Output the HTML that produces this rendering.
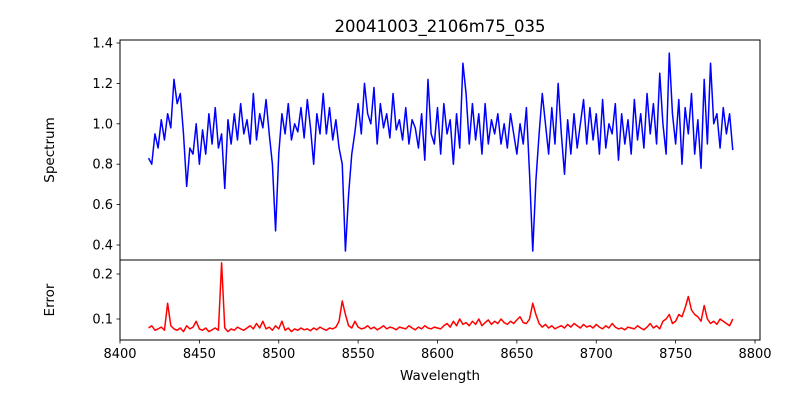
<!DOCTYPE html>
<html><head><meta charset="utf-8"><style>
html,body{margin:0;padding:0;background:#fff}
svg{display:block;font-family:"DejaVu Sans","Liberation Sans",sans-serif}
</style></head><body>
<svg id="chart" width="800" height="400" viewBox="0 0 800 400" xmlns="http://www.w3.org/2000/svg">
<rect width="800" height="400" fill="#fff"/>
<text x="440" y="32" font-size="16.5" text-anchor="middle">20041003_2106m75_035</text>
<g id="topPanel"></g><g id="botPanel"></g>
<text transform="translate(54,150) rotate(-90)" font-size="13.5" text-anchor="middle">Spectrum</text>
<text transform="translate(54,300) rotate(-90)" font-size="13.5" text-anchor="middle">Error</text>
<text x="440" y="380" font-size="13.5" text-anchor="middle">Wavelength</text>
</svg>
<script>
const waveStart = 8418, waveStep = 2;
const spectrum = [
0.83,0.80,0.95,0.88,1.02,0.92,1.05,0.98,1.22,1.10,
1.15,0.95,0.69,0.88,0.85,1.00,0.80,0.97,0.85,1.05,
0.90,1.08,0.88,0.95,0.68,1.02,0.90,1.05,0.92,1.10,
0.95,1.02,0.90,1.15,0.92,1.05,0.98,1.12,0.95,0.80,
0.47,0.85,1.05,0.95,1.10,0.92,1.00,0.96,1.08,0.93,
1.12,0.98,0.80,1.05,0.95,1.15,0.95,1.08,0.92,1.02,
0.88,0.80,0.37,0.65,0.85,0.96,1.10,0.95,1.20,1.05,
1.00,1.18,0.90,1.10,0.98,1.05,0.93,1.15,0.97,1.02,
0.92,1.08,0.90,1.02,0.98,0.88,1.05,0.82,1.22,0.95,
0.90,1.08,0.85,1.10,0.95,1.02,0.80,1.05,0.88,1.30,
1.15,0.90,1.10,0.92,1.05,0.85,1.10,0.90,1.02,0.95,
1.05,0.90,1.00,0.88,1.05,0.95,0.85,1.00,0.90,1.08,
0.75,0.37,0.72,0.95,1.15,1.00,0.85,1.08,0.90,1.20,
0.95,0.75,1.02,0.85,1.05,0.88,1.00,1.12,0.90,1.08,
0.92,1.05,0.85,1.12,0.88,1.00,0.95,1.10,0.82,1.05,
0.90,1.02,0.85,1.12,0.92,1.05,0.88,1.15,0.95,1.10,
0.90,1.25,1.00,0.85,1.35,1.05,0.90,1.12,0.80,1.08,
0.95,1.15,0.85,1.02,0.78,1.22,0.90,1.30,1.00,1.05,
0.88,1.08,0.95,1.05,0.87];
const errors = [
0.080,0.085,0.075,0.078,0.082,0.075,0.135,0.085,0.078,0.075,
0.080,0.072,0.085,0.078,0.082,0.095,0.078,0.075,0.080,0.072,
0.076,0.080,0.075,0.225,0.080,0.072,0.078,0.075,0.082,0.078,
0.075,0.080,0.085,0.078,0.090,0.080,0.095,0.078,0.082,0.075,
0.085,0.078,0.095,0.075,0.080,0.072,0.078,0.075,0.080,0.076,
0.078,0.074,0.080,0.076,0.082,0.078,0.075,0.080,0.078,0.082,
0.095,0.140,0.110,0.085,0.080,0.095,0.082,0.078,0.080,0.085,
0.078,0.082,0.076,0.080,0.085,0.078,0.082,0.080,0.076,0.082,
0.080,0.078,0.085,0.080,0.076,0.082,0.078,0.085,0.080,0.078,
0.082,0.080,0.078,0.085,0.090,0.082,0.095,0.085,0.100,0.088,
0.092,0.085,0.095,0.088,0.100,0.085,0.092,0.098,0.088,0.095,
0.090,0.100,0.092,0.088,0.095,0.090,0.098,0.105,0.092,0.090,
0.100,0.135,0.110,0.090,0.082,0.088,0.080,0.085,0.078,0.082,
0.085,0.080,0.088,0.082,0.090,0.085,0.080,0.088,0.082,0.085,
0.080,0.088,0.082,0.078,0.085,0.080,0.090,0.082,0.078,0.080,
0.076,0.082,0.080,0.078,0.085,0.080,0.076,0.082,0.090,0.080,
0.085,0.078,0.095,0.100,0.110,0.090,0.095,0.110,0.105,0.125,
0.150,0.120,0.110,0.105,0.095,0.130,0.100,0.090,0.095,0.088,
0.100,0.095,0.090,0.085,0.100];
const xTicks = [8400,8450,8500,8550,8600,8650,8700,8750,8800];
const specTicks = [0.4,0.6,0.8,1.0,1.2,1.4];
const errTicks = [0.1,0.2];

const NS = "http://www.w3.org/2000/svg";
const L = 120, R = 760;
const xScale = w => L + (w - 8400) * 1.5875;
const ySpec = v => 245 - (v - 0.4) * 202;
const yErr = v => 319 - (v - 0.1) * 450;
function mk(tag, attrs, parent){const e=document.createElementNS(NS,tag);for(const k in attrs)e.setAttribute(k,attrs[k]);parent.appendChild(e);return e;}
const topG = document.getElementById('topPanel'), botG = document.getElementById('botPanel');

function panel(g, y0, y1, vals, yf, ticks, color, name, fmt){
  const d = vals.map((v,i)=>(i?'L':'M')+xScale(waveStart+i*waveStep).toFixed(2)+' '+yf(v).toFixed(2)).join(' ');
  const p = mk('path',{d:d,fill:'none',stroke:color,'stroke-width':1.5,'stroke-linejoin':'round'},g);
  
  
  const fr = mk('rect',{x:L,y:y0,width:R-L,height:y1-y0,fill:'none',stroke:'#000','stroke-width':1},g);
  
  
  ticks.forEach(t=>{
    const y=yf(t);
    mk('line',{x1:L-3.5,x2:L,y1:y,y2:y,stroke:'#000','stroke-width':0.8},g);
    const tx=mk('text',{x:L-7,y:y+4.5,'font-size':13,'text-anchor':'end'},g);
    tx.textContent=fmt(t);
    
    
  });
}
panel(topG,40,260,spectrum,ySpec,specTicks,'#0000ff','spectrum-line',t=>t.toFixed(1));
panel(botG,260,340,errors,yErr,errTicks,'#ff0000','error-line',t=>t.toFixed(1));
xTicks.forEach(t=>{
  const x=xScale(t);
  mk('line',{x1:x,x2:x,y1:340,y2:343.5,stroke:'#000','stroke-width':0.8},botG);
  const tx=mk('text',{x:x,y:358,'font-size':13,'text-anchor':'middle'},botG);
  tx.textContent=t;
  
  
});
</script>
</body></html>
